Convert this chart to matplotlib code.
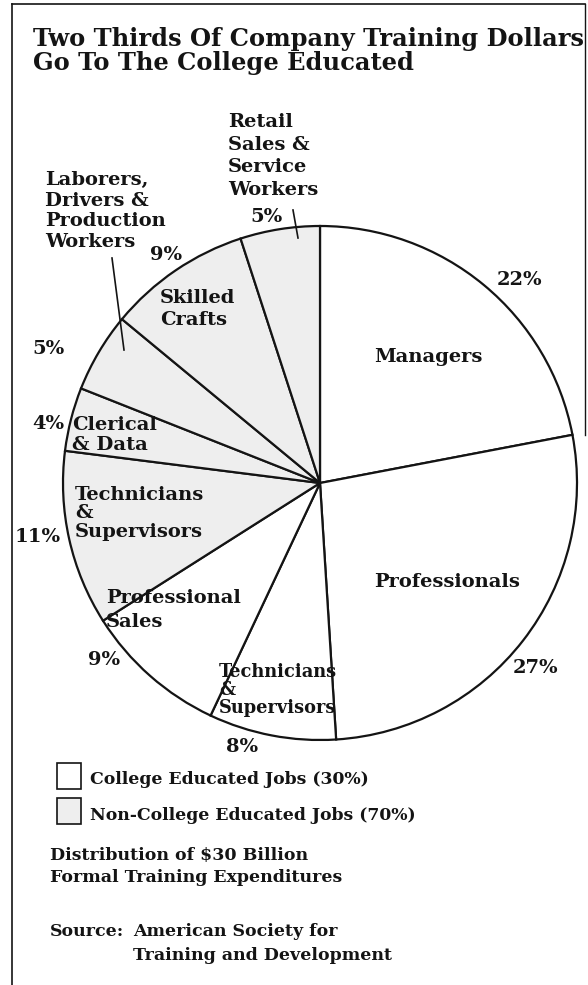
import matplotlib
matplotlib.use("Agg")
import matplotlib.pyplot as plt
from matplotlib.patches import Rectangle

# slices, clockwise from 12 o'clock
categories = ["Managers", "Professionals", "Technicians\n&\nSupervisors",
              "Professional\nSales", "Technicians\n&\nSupervisors",
              "Clerical\n& Data", "Laborers,\nDrivers &\nProduction\nWorkers",
              "Skilled\nCrafts", "Retail\nSales &\nService\nWorkers"]
shares = [22, 27, 8, 9, 11, 4, 5, 9, 5]
college = [True, True, True, True, False, False, False, False, False]
legend_labels = ["College Educated Jobs (30%)", "Non-College Educated Jobs (70%)"]

W, H = 588, 985
WHITE = "white"
GREY = "#eeeeee"
INK = "#141414"
FONT = "DejaVu Serif"

fig = plt.figure(figsize=(W / 100, H / 100), dpi=100)
ax = fig.add_axes([0, 0, 1, 1])


def Y(y):
    # pixel row (from top) -> data y
    return H - y


def txt(x, y, s, size=14, **kw):
    kw.setdefault("va", "center")
    kw.setdefault("ha", "left")
    ax.text(x, Y(y), s, fontsize=size, fontweight="bold", family=FONT,
            color=INK, **kw)


def block(x, y, s, pitch, size=14, **kw):
    # multi-line label, one text per line so the pitch matches the print
    for i, line in enumerate(s.split("\n")):
        txt(x, y + i * pitch, line, size=size, **kw)


colors = [WHITE if c else GREY for c in college]
ax.pie(shares, colors=colors, startangle=90, counterclock=False,
       center=(320, Y(483)), radius=257,
       wedgeprops=dict(edgecolor=INK, linewidth=1.6))

ax.set_xlim(0, W)
ax.set_ylim(0, H)
ax.set_aspect("equal")
ax.axis("off")

# frame
ax.plot([12, 12], [Y(985), Y(4)], color=INK, lw=1.2)
ax.plot([12, 585], [Y(4), Y(4)], color=INK, lw=1.2)
ax.plot([585, 585], [Y(4), Y(435)], color=INK, lw=1.0)

# title
block(33, 39, "Two Thirds Of Company Training Dollars\nGo To The College Educated",
      24, size=17.4)

# slice labels
txt(428, 357, categories[0], ha="center")
txt(519, 280, "22%", ha="center")
txt(447, 582, categories[1], ha="center")
txt(535, 668, "27%", ha="center")
block(219, 672, categories[2], 18, size=12.8)
txt(242, 747, "8%", ha="center")
block(106, 598, categories[3], 24)
txt(104, 660, "9%", ha="center")
block(75, 495, categories[4], 18.5)
txt(38, 537, "11%", ha="center")
block(72, 425, categories[5], 20)
txt(48, 424, "4%", ha="center")
block(45, 180, categories[6], 20.7)
txt(48, 349, "5%", ha="center")
block(160, 298, categories[7], 22)
txt(166, 255, "9%", ha="center")
block(228, 122, categories[8], 22.7)
txt(266, 217, "5%", ha="center")

# leader lines
ax.plot([293, 298], [Y(210), Y(238)], color=INK, lw=1.2)
ax.plot([112, 124], [Y(258), Y(350)], color=INK, lw=1.2)

# legend
for i, (lab, fc) in enumerate(zip(legend_labels, [WHITE, GREY])):
    y0 = 763 + i * 35
    ax.add_patch(Rectangle((57, Y(y0 + 26)), 24, 26, facecolor=fc,
                           edgecolor=INK, lw=1.2))
    txt(90, y0 + 17, lab, size=12.4)

block(50, 855, "Distribution of $30 Billion\nFormal Training Expenditures",
      22, size=12.5)
txt(50, 932, "Source:", size=12.5)
block(133, 932, "American Society for\nTraining and Development", 23, size=12.5)

fig.savefig("out.png", dpi=100)
